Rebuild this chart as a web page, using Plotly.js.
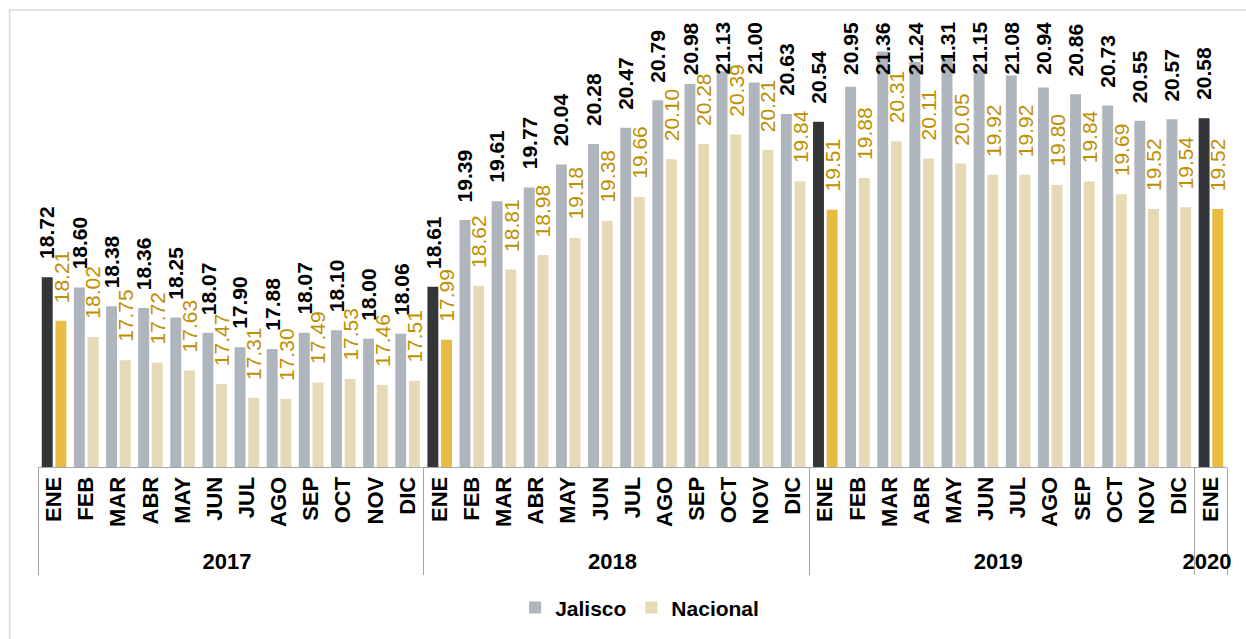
<!DOCTYPE html>
<html>
<head>
<meta charset="utf-8">
<script src="https://cdn.plot.ly/plotly-3.0.1.min.js"></script>
<style>html,body{margin:0;padding:0;background:#fff;}#chart{width:1246px;height:639px;}</style>
</head>
<body>
<div id="chart"></div>
<script>
const years = ['2017','2017','2017','2017','2017','2017','2017','2017','2017','2017','2017','2017',
               '2018','2018','2018','2018','2018','2018','2018','2018','2018','2018','2018','2018',
               '2019','2019','2019','2019','2019','2019','2019','2019','2019','2019','2019','2019',
               '2020'];
const months = ['ENE','FEB','MAR','ABR','MAY','JUN','JUL','AGO','SEP','OCT','NOV','DIC',
                'ENE','FEB','MAR','ABR','MAY','JUN','JUL','AGO','SEP','OCT','NOV','DIC',
                'ENE','FEB','MAR','ABR','MAY','JUN','JUL','AGO','SEP','OCT','NOV','DIC',
                'ENE'];
const jalisco = [18.72,18.60,18.38,18.36,18.25,18.07,17.90,17.88,18.07,18.10,18.00,18.06,
                 18.61,19.39,19.61,19.77,20.04,20.28,20.47,20.79,20.98,21.13,21.00,20.63,
                 20.54,20.95,21.36,21.24,21.31,21.15,21.08,20.94,20.86,20.73,20.55,20.57,
                 20.58];
const nacional = [18.21,18.02,17.75,17.72,17.63,17.47,17.31,17.30,17.49,17.53,17.46,17.51,
                  17.99,18.62,18.81,18.98,19.18,19.38,19.66,20.10,20.28,20.39,20.21,19.84,
                  19.51,19.88,20.31,20.11,20.05,19.92,19.92,19.80,19.84,19.69,19.52,19.54,
                  19.52];
const seriesNames = ['Jalisco','Nacional'];

const FONT = 'Liberation Sans, Arial, sans-serif';
const colJ = '#AEB5BC', colJdark = '#333538';
const colN = '#E6D9B5', colNdark = '#E8BC42';
const labelGold = '#BF9000';

const Y_MIN = 16.5, Y_MAX = 21.73;
const LABEL_CAP = 21.72;     // labels may not rise above this (value units)
const LABEL_NEED = 0.85;     // room a label needs above its bar (value units)
const BAR_SHIFT = 6.85;      // px from category centre to each bar centre

const x = [years, months];
const isJan = months.map(m => m === 'ENE');

const traces = [
  {type: 'bar', name: seriesNames[0], x: x, y: jalisco, offsetgroup: 'j', showlegend: false,
   marker: {color: isJan.map(j => j ? colJdark : colJ)}, hoverinfo: 'skip'},
  {type: 'bar', name: seriesNames[1], x: x, y: nacional, offsetgroup: 'n', showlegend: false,
   marker: {color: isJan.map(j => j ? colNdark : colN)}, hoverinfo: 'skip'},
  {type: 'bar', name: seriesNames[0], x: [[years[0]],[months[0]]], y: [null], offsetgroup: 'j', marker: {color: colJ}, showlegend: true},
  {type: 'bar', name: seriesNames[1], x: [[years[0]],[months[0]]], y: [null], offsetgroup: 'n', marker: {color: colN}, showlegend: true}
];

function labelFor(i, v, shift, font) {
  const clamp = v + LABEL_NEED > LABEL_CAP;
  return {
    xref: 'x', yref: 'y', x: i, y: clamp ? LABEL_CAP : v,
    xshift: shift, yshift: clamp ? 0 : 17,
    xanchor: 'center', yanchor: clamp ? 'top' : 'bottom',
    text: v.toFixed(2), textangle: -90, showarrow: false, font: font, borderpad: 0
  };
}
const annotations = [];
jalisco.forEach((v, i) => annotations.push(labelFor(i, v, -BAR_SHIFT,
  {family: FONT, size: 21, color: '#000000', weight: 'bold'})));
nacional.forEach((v, i) => annotations.push(labelFor(i, v, BAR_SHIFT,
  {family: FONT, size: 21, color: labelGold})));

const layout = {
  width: 1246, height: 639,
  margin: {l: 38, r: 19, t: 20, b: 172, pad: 0, autoexpand: false},
  paper_bgcolor: '#ffffff', plot_bgcolor: '#ffffff',
  barmode: 'group', bargap: 0.15, bargroupgap: 0.2,
  font: {family: FONT, color: '#000000'},
  showlegend: true,
  legend: {orientation: 'h', x: 0.506, xanchor: 'center', y: -0.315, yanchor: 'middle',
           font: {family: FONT, size: 21, weight: 'bold', color: '#000'}, bgcolor: 'rgba(0,0,0,0)'},
  xaxis: {
    type: 'multicategory', range: [-0.5, months.length - 0.5], autorange: false,
    tickangle: -90, ticks: '', showline: true, linecolor: '#A6A6A6', linewidth: 1,
    showdividers: true, dividercolor: '#A6A6A6', dividerwidth: 1, automargin: false,
    tickfont: {family: FONT, size: 22, weight: 'bold', color: '#000'},
    showgrid: false, zeroline: false, fixedrange: true
  },
  yaxis: {range: [Y_MIN, Y_MAX], autorange: false, visible: false, showgrid: false, zeroline: false, fixedrange: true, automargin: false},
  annotations: annotations,
  shapes: [
    {type: 'rect', xref: 'paper', yref: 'paper', x0: -0.0239, x1: 1.05, y0: -0.45, y1: 1.0224,
     line: {color: '#D9D9D9', width: 1.5}, fillcolor: 'rgba(0,0,0,0)', layer: 'below'}
  ]
};

Plotly.newPlot('chart', traces, layout, {displayModeBar: false, staticPlot: true});
</script>
</body>
</html>
